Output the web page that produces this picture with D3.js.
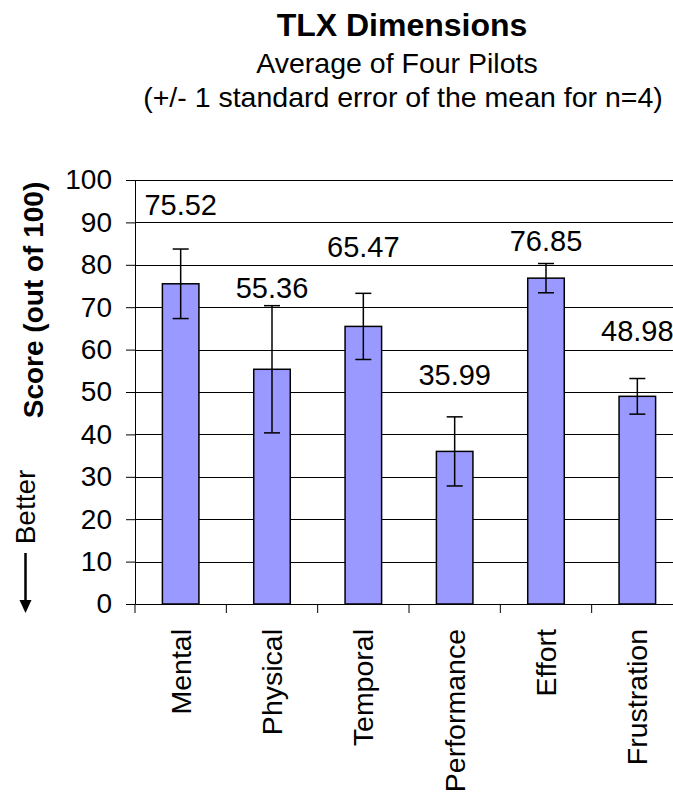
<!DOCTYPE html>
<html>
<head>
<meta charset="utf-8">
<script src="https://cdn.jsdelivr.net/npm/d3@7"></script>
<style>
  body { margin: 0; background: #fff; }
  svg { display: block; font-family: "Liberation Sans", Arial, sans-serif; }
  .axis path, .axis line { stroke: #000; }
  .grid line { stroke: #000; shape-rendering: crispEdges; }
</style>
</head>
<body>
<div id="chart"></div>
<script>
// data
const categories = ["Mental", "Physical", "Temporal", "Performance", "Effort", "Frustration"];
const means = [75.52, 55.36, 65.47, 35.99, 76.85, 48.98];
const stdErrors = [8.2, 15.0, 7.8, 8.15, 3.45, 4.2];
const yTicks = [0, 10, 20, 30, 40, 50, 60, 70, 80, 90, 100];

// label placement (px above bar top), labels were hand-placed in the original
const labelLift = [69, 71, 69, 66, 27, 55];

const width = 673, height = 797;
const margin = {top: 180, left: 135, bottom: 193};
const plotW = 548;
const plotH = height - margin.top - margin.bottom;

const svg = d3.select("#chart").append("svg")
    .attr("width", width)
    .attr("height", height);

svg.append("rect").attr("width", width).attr("height", height).attr("fill", "#fff");

// titles
svg.append("text")
    .attr("x", 402).attr("y", 36)
    .attr("text-anchor", "middle")
    .style("font-size", "32px").style("font-weight", "bold")
    .text("TLX Dimensions");
svg.append("text")
    .attr("x", 397).attr("y", 73)
    .attr("text-anchor", "middle")
    .style("font-size", "28.5px")
    .text("Average of Four Pilots");
svg.append("text")
    .attr("x", 403).attr("y", 107)
    .attr("text-anchor", "middle")
    .style("font-size", "28.5px")
    .text("(+/- 1 standard error of the mean for n=4)");

const g = svg.append("g")
    .attr("transform", `translate(${margin.left},${margin.top})`);

// scales
const x = d3.scaleBand().domain(categories).range([0, plotW]).padding(0);
const y = d3.scaleLinear().domain([0, 100]).range([plotH, 0]);

// gridlines
g.append("g").attr("class", "grid")
    .selectAll("line")
    .data(yTicks.filter(d => d > 0))
    .join("line")
    .attr("x1", 0).attr("x2", plotW)
    .attr("y1", d => Math.round(y(d)) + 0.5)
    .attr("y2", d => Math.round(y(d)) + 0.5);

// y axis
const yAxis = g.append("g").attr("class", "axis")
    .call(d3.axisLeft(y).tickValues(yTicks).tickSize(9).tickPadding(14).tickSizeOuter(0));
yAxis.selectAll("text").style("font-size", "28px").attr("fill", "#000");
yAxis.select(".domain").attr("stroke-width", 1);

// x axis (labels only, ticks drawn at band edges)
const xAxis = g.append("g").attr("class", "axis")
    .attr("transform", `translate(0,${plotH})`)
    .call(d3.axisBottom(x).tickSize(0).tickSizeOuter(0));
xAxis.select(".domain").attr("stroke-width", 1);
xAxis.selectAll("text")
    .style("font-size", "28.5px")
    .attr("fill", "#000")
    .attr("text-anchor", "end")
    .attr("transform", "rotate(-90)")
    .attr("x", -25)
    .attr("y", 0)
    .attr("dy", "0.35em");

xAxis.selectAll(".edge-tick")
    .data(categories)
    .join("line")
    .attr("class", "edge-tick")
    .attr("stroke", "#000")
    .attr("x1", d => x(d)).attr("x2", d => x(d))
    .attr("y1", 0).attr("y2", 9);

// bars
const barW = x.bandwidth() * 0.4;
const bars = categories.map((c, i) => ({cat: c, mean: means[i], se: stdErrors[i], lift: labelLift[i]}));

g.selectAll(".bar")
    .data(bars)
    .join("rect")
    .attr("class", "bar")
    .attr("x", d => x(d.cat) + (x.bandwidth() - barW) / 2)
    .attr("width", barW)
    .attr("y", d => y(d.mean))
    .attr("height", d => plotH - y(d.mean))
    .attr("fill", "#9999ff")
    .attr("stroke", "#000")
    .attr("stroke-width", 1.5);

// error bars
const errG = g.selectAll(".err")
    .data(bars)
    .join("g")
    .attr("class", "err")
    .attr("stroke", "#000")
    .attr("stroke-width", 1.5);
const cx = d => x(d.cat) + x.bandwidth() / 2;
errG.append("line")
    .attr("x1", cx).attr("x2", cx)
    .attr("y1", d => y(d.mean + d.se)).attr("y2", d => y(d.mean - d.se));
errG.append("line")
    .attr("x1", d => cx(d) - 8).attr("x2", d => cx(d) + 8)
    .attr("y1", d => y(d.mean + d.se)).attr("y2", d => y(d.mean + d.se));
errG.append("line")
    .attr("x1", d => cx(d) - 8).attr("x2", d => cx(d) + 8)
    .attr("y1", d => y(d.mean - d.se)).attr("y2", d => y(d.mean - d.se));

// value labels
g.selectAll(".val")
    .data(bars)
    .join("text")
    .attr("class", "val")
    .attr("x", cx)
    .attr("y", d => y(d.mean) - d.lift)
    .attr("text-anchor", "middle")
    .style("font-size", "29px")
    .text(d => d.mean.toFixed(2));

// y axis title
svg.append("text")
    .attr("transform", "translate(43,300) rotate(-90)")
    .attr("text-anchor", "middle")
    .style("font-size", "28px").style("font-weight", "bold")
    .text("Score (out of 100)");
svg.append("text")
    .attr("transform", "translate(35,507) rotate(-90)")
    .attr("text-anchor", "middle")
    .style("font-size", "28px")
    .text("Better");

// arrow
svg.append("line")
    .attr("x1", 25.5).attr("x2", 25.5)
    .attr("y1", 553).attr("y2", 602)
    .attr("stroke", "#000").attr("stroke-width", 2.5);
svg.append("path")
    .attr("d", "M19.5,600 L31.5,600 L25.5,613 Z")
    .attr("fill", "#000");
</script>
</body>
</html>
